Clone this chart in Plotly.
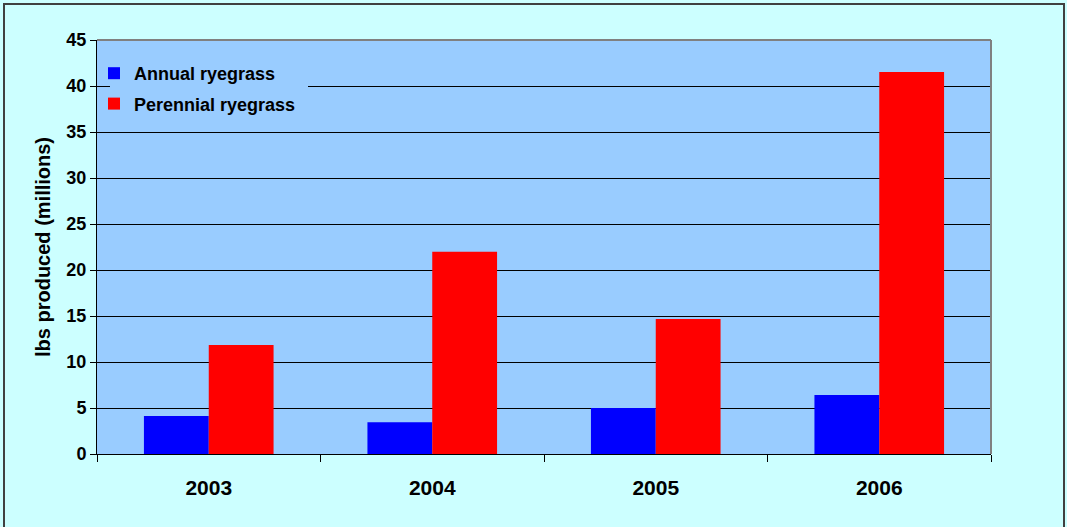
import plotly.graph_objects as go

years = ["2003", "2004", "2005", "2006"]
annual = [4.13, 3.45, 5.0, 6.41]
perennial = [11.85, 21.99, 14.67, 41.52]
series_names = ["Annual ryegrass", "Perennial ryegrass"]
colors = ["#0000FF", "#FF0000"]

W, H = 1067, 527
L, R, T, B = 97, 76, 40, 73
pw, ph = W - L - R, H - T - B


def px_x(x):
    return (x - L) / pw


def px_y(y):
    return (H - B - y) / ph


fig = go.Figure()
for i, (name, vals) in enumerate(zip(series_names, [annual, perennial])):
    fig.add_trace(go.Bar(x=years, y=vals, name=name, marker_color=colors[i],
                         marker_line_width=0, legendgroup=name))

font = "Liberation Sans, Arial, sans-serif"
fig.update_layout(
    width=W, height=H,
    margin=dict(l=L, r=R, t=T, b=B),
    paper_bgcolor="#CCFFFF",
    plot_bgcolor="#99CCFF",
    barmode="group",
    bargap=0.42,
    bargroupgap=0,
    font=dict(family=font, color="black"),
    legend=dict(x=px_x(94), y=px_y(55), xanchor="left", yanchor="top",
                bgcolor="rgba(0,0,0,0)", borderwidth=0,
                font=dict(size=18, family=font, color="black", weight="bold"),
                traceorder="grouped", tracegroupgap=4, itemwidth=30),
    xaxis=dict(showline=True, linecolor="black", linewidth=1,
               ticks="outside", tickson="boundaries", ticklen=7, tickcolor="black",
               tickfont=dict(size=21, family=font, color="black", weight="bold"),
               showgrid=False, ticklabelstandoff=15),
    yaxis=dict(range=[0, 45], dtick=5, showline=True, linecolor="black", linewidth=1,
               ticks="outside", ticklen=6, tickcolor="black",
               gridcolor="black", gridwidth=1, zeroline=False,
               tickfont=dict(size=18, family=font, color="black", weight="bold"),
               title=dict(text="lbs produced (millions)", standoff=10,
                          font=dict(size=20, family=font, color="black", weight="bold"))),
    shapes=[
        dict(type="rect", xref="paper", yref="paper",
             x0=px_x(110), x1=px_x(308), y0=px_y(120), y1=px_y(56),
             line=dict(width=0), fillcolor="#99CCFF", layer="above"),
        dict(type="line", xref="paper", yref="paper", x0=0, x1=1, y0=1, y1=1,
             line=dict(color="#808080", width=2), layer="above"),
        dict(type="line", xref="paper", yref="paper", x0=1, x1=1, y0=0, y1=1,
             line=dict(color="#808080", width=2), layer="above"),
        dict(type="rect", xref="paper", yref="paper",
             x0=px_x(4), x1=px_x(1064), y0=px_y(530), y1=px_y(4),
             line=dict(color="#404040", width=2), fillcolor="rgba(0,0,0,0)", layer="above"),
    ],
)

fig.write_html("out.html")
